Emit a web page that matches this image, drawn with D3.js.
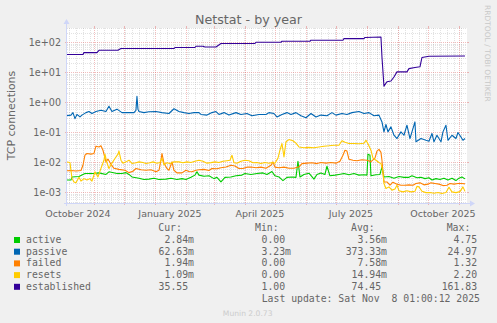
<!DOCTYPE html>
<html><head><meta charset="utf-8">
<script src="https://cdn.jsdelivr.net/npm/d3@7"></script>
<style>
html,body{margin:0;padding:0;background:#F0F0F0;}
svg{display:block;}
</style></head><body>
<svg id="chart" width="497" height="323"></svg>
<script>
const chartTitle = "Netstat - by year";
const yAxisTitle = "TCP connections";
const seriesNames = ["active","passive","failed","resets","established"];
const seriesColors = ["#00CC00","#0066B3","#FF8000","#FFCC00","#330099"];
const xTickLabels = ["October 2024","January 2025","April 2025","July 2025","October 2025"];
const xTickMonths = ["2024-10-01","2025-01-01","2025-04-01","2025-07-01","2025-10-01"];
const yTickValues = [1e2,1e1,1e0,1e-1,1e-2,1e-3];
const yTickLabels = ["1e+02","1e+01","1e+00","1e-01","1e-02","1e-03"];
const legendCur = ["2.84m","62.63m","1.94m","1.09m","35.55"];
const legendMin = ["0.00","3.23m","0.00","0.00","1.00"];
const legendAvg = ["3.56m","373.33m","7.58m","14.94m","74.45"];
const legendMax = ["4.75","24.97","1.32","2.20","161.83"];
const legendHeaders = ["Cur:","Min:","Avg:","Max:"];
const lastUpdate = "Last update: Sat Nov  8 01:00:12 2025";
const footer = "Munin 2.0.73";
const watermark = "RRDTOOL / TOBI OETIKER";
const startTime = "2024-10-04 01:00", endTime = "2025-11-08 01:00";

const activeData = [["2024-10-04",0.0026],["2024-10-09",0.0026],["2024-10-10",0.0033],["2024-10-17",0.0034],["2024-10-23",0.0043],["2024-11-01",0.0043],["2024-11-06",0.0045],["2024-11-13",0.0040],["2024-11-16",0.0049],["2024-11-24",0.0043],["2024-11-29",0.0043],["2024-12-03",0.0046],["2024-12-06",0.0040],["2024-12-09",0.0033],["2024-12-16",0.0030],["2024-12-21",0.0027],["2024-12-26",0.0028],["2024-12-31",0.0030],["2025-01-05",0.0027],["2025-01-12",0.0028],["2025-01-17",0.0030],["2025-01-23",0.0027],["2025-01-28",0.0029],["2025-02-01",0.0027],["2025-02-06",0.0032],["2025-02-10",0.0038],["2025-02-12",0.0049],["2025-02-14",0.0038],["2025-02-19",0.0035],["2025-02-24",0.0036],["2025-03-01",0.0029],["2025-03-04",0.0032],["2025-03-08",0.00225],["2025-03-12",0.0032],["2025-03-18",0.0033],["2025-03-23",0.0036],["2025-03-29",0.0038],["2025-04-01",0.0043],["2025-04-07",0.0040],["2025-04-13",0.0043],["2025-04-19",0.0045],["2025-04-23",0.0040],["2025-04-28",0.0050],["2025-05-01",0.0036],["2025-05-05",0.0033],["2025-05-09",0.0025],["2025-05-13",0.0032],["2025-05-18",0.0033],["2025-05-22",0.0032],["2025-05-24",0.011],["2025-05-26",0.0033],["2025-05-30",0.0040],["2025-06-04",0.0044],["2025-06-09",0.0028],["2025-06-12",0.0040],["2025-06-16",0.0045],["2025-06-20",0.0040],["2025-06-22",0.0075],["2025-06-25",0.0036],["2025-06-30",0.0038],["2025-07-04",0.0040],["2025-07-09",0.0043],["2025-07-14",0.0039],["2025-07-19",0.0043],["2025-07-24",0.0038],["2025-07-29",0.0039],["2025-08-01",0.0038],["2025-08-02",0.019],["2025-08-04",0.0175],["2025-08-05",0.0036],["2025-08-10",0.0039],["2025-08-14",0.0040],["2025-08-16",0.0071],["2025-08-18",0.0033],["2025-08-23",0.0034],["2025-08-28",0.0030],["2025-09-02",0.0034],["2025-09-07",0.0032],["2025-09-12",0.0032],["2025-09-15",0.0036],["2025-09-20",0.0031],["2025-09-24",0.0032],["2025-09-28",0.0029],["2025-10-02",0.0031],["2025-10-05",0.0026],["2025-10-09",0.0029],["2025-10-13",0.0027],["2025-10-17",0.0030],["2025-10-21",0.0026],["2025-10-25",0.0030],["2025-10-29",0.0025],["2025-11-01",0.0030],["2025-11-04",0.0033],["2025-11-07",0.00284]];

const passiveData = [["2024-10-04",0.36],["2024-10-09",0.38],["2024-10-11",0.46],["2024-10-13",0.29],["2024-10-15",0.40],["2024-10-18",0.33],["2024-10-20",0.38],["2024-10-24",0.46],["2024-10-27",0.50],["2024-10-30",0.43],["2024-11-03",0.50],["2024-11-08",0.55],["2024-11-13",0.50],["2024-11-16",0.75],["2024-11-19",0.50],["2024-11-24",0.60],["2024-11-29",0.46],["2024-12-04",0.46],["2024-12-11",0.46],["2024-12-13",0.55],["2024-12-14",1.62],["2024-12-15",0.60],["2024-12-16",0.50],["2024-12-21",0.46],["2024-12-26",0.49],["2025-01-02",0.50],["2025-01-08",0.46],["2025-01-15",0.43],["2025-01-20",0.62],["2025-01-25",0.50],["2025-01-30",0.46],["2025-02-04",0.43],["2025-02-09",0.46],["2025-02-14",0.46],["2025-02-16",0.40],["2025-02-22",0.38],["2025-02-27",0.46],["2025-03-03",0.50],["2025-03-06",0.40],["2025-03-11",0.46],["2025-03-16",0.38],["2025-03-23",0.46],["2025-03-28",0.40],["2025-04-03",0.43],["2025-04-08",0.36],["2025-04-15",0.40],["2025-04-22",0.40],["2025-04-25",0.46],["2025-04-30",0.43],["2025-05-03",0.33],["2025-05-08",0.40],["2025-05-13",0.46],["2025-05-17",0.40],["2025-05-22",0.46],["2025-05-27",0.36],["2025-06-01",0.31],["2025-06-06",0.43],["2025-06-11",0.33],["2025-06-16",0.38],["2025-06-22",0.36],["2025-06-27",0.46],["2025-07-01",0.38],["2025-07-07",0.43],["2025-07-12",0.40],["2025-07-17",0.46],["2025-07-24",0.50],["2025-07-29",0.43],["2025-08-03",0.46],["2025-08-08",0.36],["2025-08-13",0.38],["2025-08-16",0.225],["2025-08-18",0.105],["2025-08-20",0.185],["2025-08-22",0.105],["2025-08-25",0.154],["2025-08-28",0.081],["2025-08-31",0.063],["2025-09-04",0.105],["2025-09-07",0.081],["2025-09-10",0.175],["2025-09-13",0.063],["2025-09-15",0.105],["2025-09-18",0.225],["2025-09-19",0.049],["2025-09-24",0.063],["2025-09-29",0.055],["2025-10-02",0.051],["2025-10-05",0.093],["2025-10-07",0.049],["2025-10-10",0.081],["2025-10-14",0.049],["2025-10-16",0.105],["2025-10-19",0.175],["2025-10-21",0.055],["2025-10-25",0.081],["2025-10-29",0.063],["2025-10-31",0.10],["2025-11-03",0.071],["2025-11-05",0.055],["2025-11-07",0.063]];

const failedData = [["2024-10-04",0.0053],["2024-10-09",0.0054],["2024-10-14",0.0052],["2024-10-19",0.0054],["2024-10-21",0.0081],["2024-10-23",0.0175],["2024-10-25",0.020],["2024-10-29",0.019],["2024-11-01",0.020],["2024-11-03",0.035],["2024-11-06",0.033],["2024-11-08",0.036],["2024-11-10",0.0257],["2024-11-12",0.014],["2024-11-13",0.0105],["2024-11-15",0.0130],["2024-11-18",0.0088],["2024-11-21",0.0064],["2024-11-26",0.0059],["2024-12-02",0.0055],["2024-12-06",0.0046],["2024-12-10",0.0051],["2024-12-13",0.0063],["2024-12-18",0.0057],["2024-12-23",0.0055],["2024-12-28",0.0057],["2025-01-02",0.0049],["2025-01-05",0.0055],["2025-01-07",0.0119],["2025-01-08",0.020],["2025-01-10",0.0095],["2025-01-13",0.0063],["2025-01-15",0.0055],["2025-01-18",0.0105],["2025-01-20",0.0055],["2025-01-23",0.0045],["2025-01-28",0.0045],["2025-02-01",0.0055],["2025-02-04",0.0050],["2025-02-07",0.0049],["2025-02-11",0.0055],["2025-02-14",0.0057],["2025-02-19",0.0059],["2025-02-24",0.0054],["2025-02-27",0.0063],["2025-03-04",0.0062],["2025-03-08",0.0067],["2025-03-13",0.0071],["2025-03-18",0.0081],["2025-03-22",0.0076],["2025-03-26",0.0063],["2025-03-30",0.0063],["2025-04-03",0.0070],["2025-04-07",0.0071],["2025-04-12",0.0067],["2025-04-17",0.0070],["2025-04-22",0.0064],["2025-04-27",0.0081],["2025-04-29",0.0105],["2025-05-01",0.0070],["2025-05-05",0.0067],["2025-05-10",0.0070],["2025-05-15",0.0064],["2025-05-20",0.0064],["2025-05-25",0.0072],["2025-05-28",0.0092],["2025-06-02",0.0095],["2025-06-07",0.0098],["2025-06-12",0.0092],["2025-06-16",0.0100],["2025-06-21",0.0095],["2025-06-26",0.0100],["2025-07-01",0.0095],["2025-07-05",0.011],["2025-07-08",0.0175],["2025-07-10",0.0257],["2025-07-12",0.024],["2025-07-14",0.0128],["2025-07-18",0.0119],["2025-07-22",0.0115],["2025-07-27",0.0123],["2025-08-01",0.0119],["2025-08-05",0.0107],["2025-08-09",0.014],["2025-08-11",0.024],["2025-08-13",0.0274],["2025-08-15",0.0218],["2025-08-16",0.0119],["2025-08-17",0.0048],["2025-08-18",0.00225],["2025-08-21",0.00225],["2025-08-24",0.00175],["2025-08-27",0.0022],["2025-08-31",0.0019],["2025-09-04",0.00175],["2025-09-08",0.00175],["2025-09-12",0.0018],["2025-09-16",0.00175],["2025-09-19",0.0020],["2025-09-23",0.0021],["2025-09-27",0.0018],["2025-10-01",0.0019],["2025-10-04",0.0021],["2025-10-08",0.0020],["2025-10-12",0.0019],["2025-10-16",0.0017],["2025-10-20",0.00175],["2025-10-23",0.0020],["2025-10-27",0.0019],["2025-10-31",0.0020],["2025-11-04",0.0020],["2025-11-07",0.00194]];

const resetsData = [["2024-10-04",0.0105],["2024-10-08",0.0100],["2024-10-10",0.0030],["2024-10-12",0.00225],["2024-10-14",0.0021],["2024-10-17",0.0032],["2024-10-19",0.0024],["2024-10-22",0.0029],["2024-10-25",0.0026],["2024-10-28",0.0029],["2024-10-30",0.0024],["2024-11-02",0.0049],["2024-11-05",0.0033],["2024-11-08",0.0064],["2024-11-11",0.0119],["2024-11-12",0.019],["2024-11-14",0.0098],["2024-11-16",0.0063],["2024-11-19",0.0095],["2024-11-22",0.0136],["2024-11-25",0.019],["2024-11-26",0.024],["2024-11-28",0.0119],["2024-11-30",0.0095],["2024-12-03",0.0105],["2024-12-06",0.0119],["2024-12-09",0.0093],["2024-12-13",0.0098],["2024-12-16",0.0105],["2024-12-20",0.0100],["2024-12-23",0.0093],["2024-12-27",0.0098],["2024-12-30",0.0105],["2025-01-03",0.0095],["2025-01-06",0.0100],["2025-01-08",0.0140],["2025-01-10",0.0084],["2025-01-13",0.0098],["2025-01-16",0.0093],["2025-01-20",0.0105],["2025-01-25",0.0105],["2025-01-29",0.0098],["2025-02-02",0.0105],["2025-02-06",0.0100],["2025-02-10",0.0110],["2025-02-14",0.0119],["2025-02-18",0.0110],["2025-02-22",0.0095],["2025-02-26",0.0099],["2025-03-02",0.0105],["2025-03-06",0.0100],["2025-03-10",0.0110],["2025-03-14",0.0115],["2025-03-17",0.0119],["2025-03-19",0.0175],["2025-03-21",0.0098],["2025-03-24",0.0095],["2025-03-28",0.0110],["2025-04-01",0.0119],["2025-04-05",0.0115],["2025-04-09",0.0098],["2025-04-13",0.0100],["2025-04-17",0.0092],["2025-04-21",0.0100],["2025-04-25",0.0095],["2025-04-28",0.0100],["2025-05-01",0.0095],["2025-05-04",0.0140],["2025-05-06",0.0257],["2025-05-08",0.043],["2025-05-10",0.0154],["2025-05-12",0.049],["2025-05-15",0.058],["2025-05-19",0.053],["2025-05-22",0.044],["2025-05-25",0.033],["2025-05-30",0.031],["2025-06-04",0.032],["2025-06-09",0.031],["2025-06-14",0.033],["2025-06-19",0.035],["2025-06-24",0.036],["2025-06-29",0.0377],["2025-07-04",0.0377],["2025-07-07",0.053],["2025-07-10",0.047],["2025-07-14",0.043],["2025-07-19",0.043],["2025-07-24",0.042],["2025-07-29",0.044],["2025-07-31",0.055],["2025-08-02",0.042],["2025-08-05",0.0257],["2025-08-07",0.014],["2025-08-10",0.0119],["2025-08-13",0.0100],["2025-08-15",0.0093],["2025-08-17",0.0048],["2025-08-18",0.0020],["2025-08-20",0.00136],["2025-08-23",0.00154],["2025-08-26",0.0012],["2025-08-29",0.0013],["2025-08-31",0.00175],["2025-09-02",0.00115],["2025-09-06",0.00105],["2025-09-10",0.00115],["2025-09-14",0.00105],["2025-09-18",0.0011],["2025-09-20",0.0016],["2025-09-22",0.00154],["2025-09-25",0.0011],["2025-09-29",0.00099],["2025-10-03",0.0010],["2025-10-07",0.00095],["2025-10-11",0.0010],["2025-10-15",0.00093],["2025-10-19",0.0010],["2025-10-22",0.0015],["2025-10-25",0.00105],["2025-10-29",0.00099],["2025-11-02",0.00107],["2025-11-05",0.00154],["2025-11-07",0.00109]];

const establishedData = [["2024-10-04",40],["2024-10-21",40],["2024-10-22",46],["2024-11-04",46],["2024-11-06",55],["2024-11-25",55],["2024-11-28",63],["2025-01-20",63],["2025-01-21",68],["2025-02-10",68],["2025-02-11",75],["2025-02-18",75],["2025-02-20",71],["2025-03-03",71],["2025-03-08",93],["2025-04-11",93],["2025-04-12",102],["2025-05-07",102],["2025-05-08",110],["2025-06-05",110],["2025-06-06",119],["2025-07-08",119],["2025-07-09",135],["2025-07-29",135],["2025-07-30",147],["2025-08-15",152],["2025-08-16",33],["2025-08-18",3.5],["2025-08-21",4.9],["2025-08-25",5.2],["2025-08-28",7.1],["2025-08-31",10.5],["2025-09-10",10.5],["2025-09-12",13.5],["2025-09-18",14.7],["2025-09-23",15.5],["2025-09-25",31.6],["2025-10-02",35],["2025-11-07",35.55]];

const allSeries = [activeData, passiveData, failedData, resetsData, establishedData];

// ---------- drawing ----------
const svg = d3.select("#chart");
const parseDay = d3.timeParse("%Y-%m-%d");
const parseTime = d3.timeParse("%Y-%m-%d %H:%M");
const plot = {left: 67, right: 467, top: 28, bottom: 203};
const FONT = "DejaVu Sans, sans-serif";
const MONO = "DejaVu Sans Mono, monospace";
const textCol = "#666666";

const x = d3.scaleTime().domain([parseTime(startTime), parseTime(endTime)]).range([66, 466]);
const y = d3.scaleLog().domain([Math.pow(10, -3.35), Math.pow(10, 2.4833)]).range([plot.bottom, plot.top]);

svg.append("rect").attr("width",497).attr("height",323).attr("fill","#F0F0F0");
svg.append("rect").attr("x",plot.left).attr("y",plot.top)
  .attr("width",plot.right-plot.left).attr("height",plot.bottom-plot.top).attr("fill","#FFFFFF");

const grid = svg.append("g");
const minorCol = "rgba(143,143,143,0.26)";
const majorCol = "rgba(222,79,79,0.38)";
const px = v => Math.round(v) + 0.5;

// horizontal minor grid (2..9 per decade)
const minorY = [];
for (let e = -4; e <= 2; e++) for (let m = 2; m <= 9; m++) {
  const v = m * Math.pow(10, e);
  const yy = y(v);
  if (yy > plot.top && yy < plot.bottom) minorY.push(yy);
}
grid.selectAll(".hmin").data(minorY).join("line")
  .attr("x1",plot.left).attr("x2",plot.right).attr("y1",d=>px(d)).attr("y2",d=>px(d))
  .attr("stroke",minorCol).attr("stroke-dasharray","1,1");
// vertical minor grid (weekly)
const weeks = d3.timeMonday.range(x.domain()[0], x.domain()[1]).filter(d => x(d) > plot.left && x(d) < plot.right);
grid.selectAll(".vmin").data(weeks).join("line")
  .attr("y1",plot.top).attr("y2",plot.bottom).attr("x1",d=>px(x(d))).attr("x2",d=>px(x(d)))
  .attr("stroke",minorCol).attr("stroke-dasharray","1,1");
// major horizontal
grid.selectAll(".hmaj").data(yTickValues).join("line")
  .attr("x1",plot.left).attr("x2",plot.right).attr("y1",d=>px(y(d))).attr("y2",d=>px(y(d)))
  .attr("stroke",majorCol).attr("stroke-dasharray","1,1");
grid.selectAll(".hmajt").data(yTickValues).join("line")
  .attr("x1",plot.left-2).attr("x2",plot.left).attr("y1",d=>px(y(d))).attr("y2",d=>px(y(d)))
  .attr("stroke",majorCol);
grid.selectAll(".hmajt2").data(yTickValues).join("line")
  .attr("x1",plot.right).attr("x2",plot.right+2).attr("y1",d=>px(y(d))).attr("y2",d=>px(y(d)))
  .attr("stroke",majorCol);
// major vertical (monthly)
const months = d3.timeMonth.range(x.domain()[0], x.domain()[1]).filter(d => x(d) > plot.left && x(d) < plot.right);
grid.selectAll(".vmaj").data(months).join("line")
  .attr("y1",plot.top).attr("y2",plot.bottom).attr("x1",d=>px(x(d))).attr("x2",d=>px(x(d)))
  .attr("stroke",majorCol).attr("stroke-dasharray","1,1");
grid.selectAll(".vmajt").data(months).join("line")
  .attr("y1",plot.bottom).attr("y2",plot.bottom+2).attr("x1",d=>px(x(d))).attr("x2",d=>px(x(d)))
  .attr("stroke",majorCol);
grid.selectAll(".vmajt2").data(months).join("line")
  .attr("y1",plot.top-2).attr("y2",plot.top).attr("x1",d=>px(x(d))).attr("x2",d=>px(x(d)))
  .attr("stroke",majorCol);

// axes lines with arrows
const axisCol = "#CFD6F8";
svg.append("line").attr("x1",plot.left-0.5).attr("x2",plot.left-0.5).attr("y1",plot.bottom+3).attr("y2",plot.top-5)
  .attr("stroke",axisCol);
svg.append("path").attr("d",`M${plot.left-3.5},${plot.top-4} L${plot.left-0.5},${plot.top-9} L${plot.left+2.5},${plot.top-4} Z`).attr("fill",axisCol);
svg.append("line").attr("x1",plot.left-3).attr("x2",plot.right+4).attr("y1",plot.bottom+0.5).attr("y2",plot.bottom+0.5)
  .attr("stroke",axisCol);
svg.append("path").attr("d",`M${plot.right+3},${plot.bottom-2.5} L${plot.right+8},${plot.bottom+0.5} L${plot.right+3},${plot.bottom+3.5} Z`).attr("fill",axisCol);

// series
svg.append("clipPath").attr("id","clip").append("rect")
  .attr("x",plot.left).attr("y",plot.top).attr("width",plot.right-plot.left).attr("height",plot.bottom-plot.top);
const line = d3.line().x(d=>x(parseDay(d[0]))).y(d=>y(d[1]));
const lines = svg.append("g").attr("clip-path","url(#clip)");
allSeries.forEach((s,i)=>{
  lines.append("path").attr("d",line(s)).attr("fill","none")
    .attr("stroke",seriesColors[i]).attr("stroke-width",1.1).attr("stroke-linejoin","round");
});

// title
svg.append("text").attr("x",248.5).attr("y",24).attr("text-anchor","middle")
  .attr("font-family",FONT).attr("font-size",12.7).attr("fill",textCol).text(chartTitle);
// y axis title
svg.append("text").attr("transform","translate(15,115.5) rotate(-90)").attr("text-anchor","middle")
  .attr("font-family",FONT).attr("font-size",10.9).attr("fill",textCol).text(yAxisTitle);
// y tick labels
svg.selectAll(".ytl").data(yTickValues).join("text")
  .attr("x",61).attr("y",d=>y(d)+3.5).attr("text-anchor","end")
  .attr("font-family",FONT).attr("font-size",9.6).attr("fill",textCol)
  .text((d,i)=>yTickLabels[i]);
// x tick labels (centered mid-month like rrdtool)
svg.selectAll(".xtl").data(xTickMonths).join("text")
  .attr("x",d=>x(d3.timeDay.offset(parseDay(d),15))).attr("y",216.5).attr("text-anchor","middle")
  .attr("font-family",FONT).attr("font-size",9.5).attr("fill",textCol)
  .text((d,i)=>xTickLabels[i]);

// watermark
svg.append("text").attr("transform","translate(485,5) rotate(90)")
  .attr("font-family",FONT).attr("font-size",7.5).attr("fill","#C8C8C8").text(watermark);
// footer
svg.append("text").attr("x",247.7).attr("y",315.5).attr("text-anchor","middle")
  .attr("font-family",FONT).attr("font-size",7.6).attr("fill","#CCCCCC").text(footer);

// legend
const legFS = 9.8;
const cw = legFS * 0.602;
const rowY = [243, 254.7, 266.4, 278.1, 289.8];
const headerY = 231;
const headerX = [158.3, 255, 351, 446.7];
const colRight = [194, 291, 387, 483];
const leg = svg.append("g").attr("font-family",MONO).attr("font-size",legFS).attr("fill",textCol);
legendHeaders.forEach((h,i)=>leg.append("text").attr("x",headerX[i]).attr("y",headerY).text(h));
seriesNames.forEach((n,i)=>{
  svg.append("rect").attr("x",14).attr("y",rowY[i]-6).attr("width",6).attr("height",6).attr("fill",seriesColors[i]);
  leg.append("text").attr("x",26).attr("y",rowY[i]).text(n);
  [legendCur, legendMin, legendAvg, legendMax].forEach((col,j)=>{
    const s = col[i];
    const hasUnit = /[a-zA-Z]$/.test(s);
    leg.append("text").attr("x",colRight[j] - (hasUnit?0:cw)).attr("y",rowY[i])
      .attr("text-anchor","end").text(s);
  });
});
leg.append("text").attr("x",261.7).attr("y",301.5).attr("xml:space","preserve")
  .style("white-space","pre").text(lastUpdate);
</script>
</body></html>
